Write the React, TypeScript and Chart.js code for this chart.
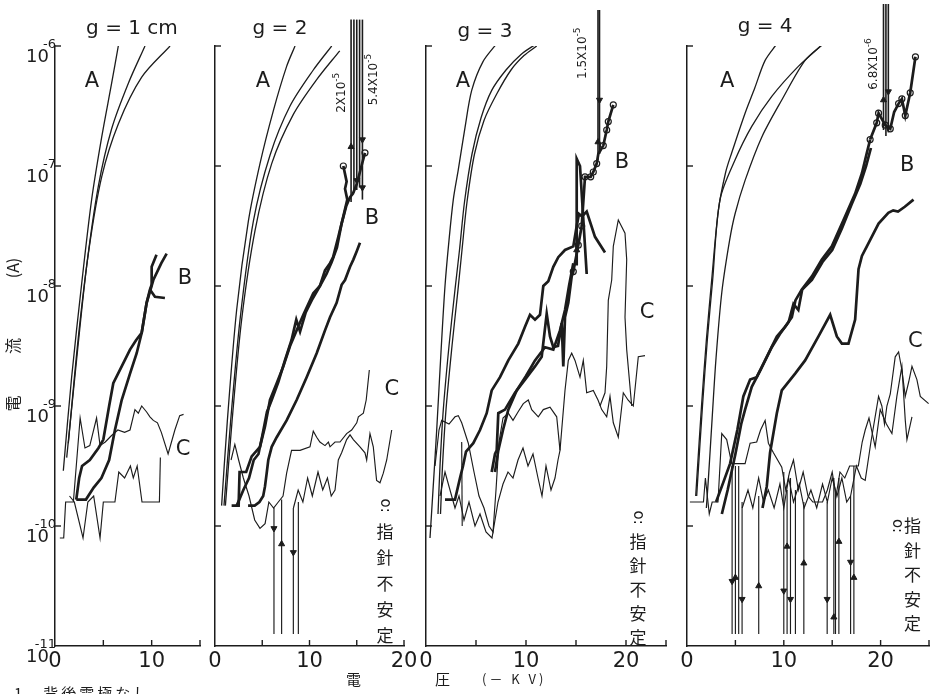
import React, { useEffect, useRef } from "react";
import { Chart, registerables } from "chart.js";

Chart.register(...registerables);

// Each point: [voltage (-kV), log10 of current (A)]
type Pt = [number, number];

// ---------------- g = 1 cm ----------------
const g1_A1: Pt[] = [[0.86,-9.54],[1.72,-8.76],[2.76,-7.98],[3.79,-7.28],[4.83,-6.76],[5.86,-6.31],[6.55,-6.0]];
const g1_A2: Pt[] = [[1.21,-9.43],[2.24,-8.61],[3.28,-7.83],[4.48,-7.17],[5.86,-6.69],[7.59,-6.31],[9.31,-6.0]];
const g1_A3: Pt[] = [[1.38,-9.31],[2.41,-8.43],[3.52,-7.69],[4.83,-7.09],[6.55,-6.65],[8.97,-6.26],[11.9,-6.0]];
const g1_B1: Pt[] = [[2.2,-9.78],[2.5,-9.6],[2.8,-9.5],[3.6,-9.45],[4.5,-9.35],[5.0,-9.28],[5.17,-9.2],[5.6,-9.0],[6.03,-8.81],[6.9,-8.67],[7.76,-8.53],[8.4,-8.45],[8.97,-8.39],[9.48,-8.14],[9.82,-8.03],[10.0,-7.99],[10.0,-7.84],[10.5,-7.74]];
const g1_B2: Pt[] = [[2.2,-9.78],[3.2,-9.78],[4.0,-9.68],[4.8,-9.6],[5.6,-9.45],[6.2,-9.2],[6.9,-8.95],[7.76,-8.73],[8.45,-8.56],[8.97,-8.39],[9.48,-8.14],[10.17,-7.95],[11.0,-7.81],[11.55,-7.73]];
const g1_B3: Pt[] = [[9.82,-8.03],[10.34,-8.09],[11.37,-8.1]];
const g1_C1: Pt[] = [[0.5,-10.1],[0.9,-10.1],[1.1,-9.8],[1.9,-9.8],[2.6,-9.1],[3.1,-9.35],[3.6,-9.33],[4.3,-9.1],[4.66,-9.33],[5.2,-9.3],[5.8,-9.25],[6.5,-9.2],[7.2,-9.22],[7.76,-9.2],[8.27,-9.03],[8.62,-9.06],[8.97,-9.0],[9.48,-9.05],[9.82,-9.09],[10.17,-9.12],[10.6,-9.14],[11.0,-9.22],[11.7,-9.4],[12.4,-9.2],[12.9,-9.08],[13.3,-9.07]];
const g1_C2: Pt[] = [[1.5,-9.75],[2.0,-9.8],[2.9,-10.1],[3.4,-9.8],[4.0,-9.75],[4.66,-10.1],[5.0,-9.8],[6.2,-9.8],[6.6,-9.55],[7.2,-9.6],[7.8,-9.5],[8.1,-9.6],[8.5,-9.5],[9.0,-9.8],[10.8,-9.8],[10.9,-9.43]];

// ---------------- g = 2 ----------------
const g2_A1: Pt[] = [[0.7,-9.83],[1.3,-9.13],[2.29,-8.2],[3.53,-7.46],[4.76,-6.98],[6.17,-6.54],[7.58,-6.17],[8.47,-6.0]];
const g2_A2: Pt[] = [[0.95,-9.83],[1.65,-9.13],[2.65,-8.28],[4.06,-7.46],[5.82,-6.91],[7.94,-6.5],[10.4,-6.2],[12.35,-6.0]];
const g2_A3: Pt[] = [[1.1,-9.83],[1.8,-9.13],[2.82,-8.28],[4.23,-7.54],[6.0,-6.98],[8.29,-6.57],[10.76,-6.28],[13.2,-6.04]];
const g2_B1: Pt[] = [[1.76,-9.83],[2.5,-9.83],[2.6,-9.55],[3.3,-9.55],[3.88,-9.42],[4.76,-9.34],[5.29,-9.17],[5.82,-8.95],[6.53,-8.81],[7.23,-8.67],[7.94,-8.5],[8.8,-8.34],[9.35,-8.24],[10.4,-8.06],[11.1,-8.0],[11.64,-7.87],[12.17,-7.81],[12.5,-7.76],[13.05,-7.59],[13.58,-7.42],[14.0,-7.28],[13.76,-7.19],[13.93,-7.13],[13.58,-7.0]];
const g2_B2: Pt[] = [[2.3,-9.83],[3.0,-9.7],[3.6,-9.6],[4.1,-9.45],[4.6,-9.4],[5.0,-9.25],[5.5,-9.05],[6.0,-8.95],[6.7,-8.8],[7.4,-8.62],[8.1,-8.45],[8.6,-8.28],[9.0,-8.38],[9.6,-8.22],[10.23,-8.12],[11.1,-8.0],[11.8,-7.9],[12.35,-7.8],[12.9,-7.68],[13.4,-7.48],[13.9,-7.33],[14.29,-7.26],[14.6,-7.23],[15.0,-7.15],[15.5,-7.0],[15.87,-6.89]];
const g2_B3: Pt[] = [[3.5,-9.83],[4.2,-9.83],[4.7,-9.8],[5.1,-9.75],[5.29,-9.67],[5.47,-9.56],[5.64,-9.45],[6.0,-9.34],[6.53,-9.26],[7.58,-9.12],[8.64,-8.95],[9.7,-8.76],[10.76,-8.56],[11.64,-8.37],[12.17,-8.26],[12.87,-8.14],[13.4,-7.99],[13.76,-7.95],[14.29,-7.84],[14.64,-7.78],[15.0,-7.71],[15.34,-7.64]];
const g2_C1: Pt[] = [[1.7,-9.45],[2.1,-9.32],[2.5,-9.45],[3.0,-9.6],[3.6,-9.75],[4.2,-9.95],[4.76,-10.02],[5.3,-9.98],[5.7,-9.8],[6.2,-9.85],[6.7,-9.8],[7.2,-9.75],[7.58,-9.56],[8.1,-9.37],[9.0,-9.37],[10.05,-9.34],[10.4,-9.21],[10.76,-9.26],[11.1,-9.3],[11.64,-9.33],[12.0,-9.3],[12.17,-9.34],[12.7,-9.3],[13.23,-9.3],[13.93,-9.23],[14.46,-9.2],[15.0,-9.14],[15.17,-9.09],[15.7,-9.06],[16.0,-8.95],[16.33,-8.7]];
const g2_C2: Pt[] = [[8.3,-9.85],[8.8,-9.7],[9.3,-9.8],[9.8,-9.6],[10.3,-9.75],[10.9,-9.55],[11.4,-9.7],[11.9,-9.6],[12.3,-9.75],[12.7,-9.7],[13.05,-9.45],[13.4,-9.39],[13.93,-9.28],[14.29,-9.24],[14.64,-9.28],[15.34,-9.34],[15.87,-9.39],[16.05,-9.45],[16.4,-9.23],[16.75,-9.34],[17.1,-9.62],[17.46,-9.64],[17.81,-9.56],[18.17,-9.45],[18.7,-9.2]];
const g2_dropX = [6.24, 7.05, 8.29, 8.82];
const g2_dropTop = [-9.85, -9.78, -9.85, -9.8];
const g2_bundleX = [14.4, 14.7, 15.0, 15.3, 15.6];
const g2_bundleLow = [-7.3, -7.22, -7.2, -7.18, -7.28];
const g2_circles: Pt[] = [[13.58,-7.0],[15.87,-6.89]];
const g2_up: Pt[] = [[7.05,-10.15],[14.4,-6.84]];
const g2_down: Pt[] = [[6.24,-10.02],[8.29,-10.22],[15.6,-6.78],[15.0,-7.12],[15.6,-7.18]];

// ---------------- g = 3 ----------------
const g3_A1: Pt[] = [[0.4,-10.1],[0.7,-9.7],[1.07,-9.2],[1.5,-8.55],[1.9,-8.0],[2.3,-7.62],[2.73,-7.28],[3.23,-7.03],[3.9,-6.68],[4.57,-6.37],[5.7,-6.13],[7.07,-5.98]];
const g3_A2: Pt[] = [[1.2,-9.9],[1.4,-9.5],[1.73,-9.03],[2.3,-8.5],[2.9,-8.03],[3.35,-7.7],[3.85,-7.3],[4.6,-6.9],[5.5,-6.6],[6.57,-6.37],[8.0,-6.2],[9.5,-6.07],[11.07,-5.98]];
const g3_A3: Pt[] = [[1.45,-9.9],[1.65,-9.5],[2.0,-9.03],[2.6,-8.5],[3.2,-8.03],[3.6,-7.7],[4.1,-7.3],[4.85,-6.9],[5.8,-6.62],[7.07,-6.4],[8.5,-6.2],[9.8,-6.08],[11.07,-6.0]];
const g3_B1: Pt[] = [[1.9,-9.78],[2.9,-9.78],[3.4,-9.6],[3.7,-9.5],[4.0,-9.38],[4.73,-9.31],[5.4,-9.2],[6.07,-9.06],[6.57,-8.87],[7.4,-8.76],[8.23,-8.62],[9.23,-8.48],[9.9,-8.34],[10.4,-8.24],[10.9,-8.28],[11.4,-8.24],[11.73,-8.0],[12.23,-7.96],[12.73,-7.84],[13.23,-7.76],[13.9,-7.7],[14.73,-7.67],[15.07,-7.5],[15.3,-7.4],[15.6,-7.42],[16.07,-7.38],[16.9,-7.59],[17.9,-7.72]];
const g3_B2: Pt[] = [[6.57,-9.55],[6.9,-9.4],[7.07,-9.37],[7.23,-9.06],[7.9,-9.03],[8.9,-8.89],[9.9,-8.78],[10.9,-8.67],[11.57,-8.59],[12.07,-8.23],[12.4,-8.42],[12.73,-8.51],[13.2,-8.5],[13.57,-8.31],[13.73,-8.67],[13.9,-8.26],[14.23,-8.14],[14.57,-7.92],[14.73,-7.88],[15.23,-7.66],[15.57,-7.5]];
const g3_B3: Pt[] = [[6.9,-9.55],[7.23,-9.37],[7.7,-9.2],[8.23,-9.03],[9.07,-8.87],[10.0,-8.75],[10.9,-8.62],[11.9,-8.51],[12.73,-8.53],[13.4,-8.37],[13.9,-8.2],[14.3,-8.0],[14.73,-7.81]];
const g3_B4: Pt[] = [[15.07,-7.83],[15.07,-6.94],[15.4,-7.0],[16.07,-7.9]];
const g3_B5: Pt[] = [[15.57,-7.5],[15.9,-7.09],[16.47,-7.09],[16.73,-7.05],[17.07,-6.98],[17.23,-6.9],[17.73,-6.83],[18.07,-6.7],[18.23,-6.63],[18.73,-6.49]];
const g3_C1: Pt[] = [[0.9,-9.5],[1.3,-9.2],[1.57,-9.12],[2.3,-9.15],[2.9,-9.09],[3.23,-9.08],[3.57,-9.14],[4.23,-9.31],[4.8,-9.55],[5.3,-9.75],[5.8,-9.85],[6.3,-10.0],[6.7,-10.05],[7.0,-9.7],[7.3,-9.3],[7.7,-9.1],[8.23,-9.06],[8.7,-9.12],[9.2,-9.05],[9.73,-8.98],[10.23,-8.95],[10.57,-9.03],[11.23,-9.09],[11.73,-9.03],[12.4,-9.01],[13.07,-9.09],[13.4,-9.37]];
const g3_C2: Pt[] = [[1.4,-9.75],[1.9,-9.55],[2.4,-9.7],[2.9,-9.85],[3.3,-9.75],[3.8,-9.95],[4.3,-9.8],[4.9,-10.0],[5.4,-9.9],[6.0,-10.05],[6.6,-10.1],[7.2,-9.8],[7.7,-9.65],[8.2,-9.55],[8.7,-9.6],[9.2,-9.45],[9.7,-9.35],[10.2,-9.5],[10.7,-9.4],[11.2,-9.6],[11.6,-9.75],[12.0,-9.5],[12.5,-9.7],[12.9,-9.6],[13.2,-9.45],[13.4,-9.37],[13.57,-9.2],[13.9,-8.87],[14.23,-8.62],[14.57,-8.56],[14.9,-8.62],[15.4,-8.76],[15.73,-8.62],[16.07,-8.89],[16.73,-8.87],[17.2,-8.95],[17.57,-9.03],[18.07,-9.09],[18.4,-8.92],[18.73,-9.14],[19.23,-9.26],[19.73,-8.89],[20.2,-8.95],[20.73,-9.0],[21.23,-8.59],[21.9,-8.58]];
const g3_C3: Pt[] = [[17.4,-9.0],[17.9,-8.89],[18.07,-8.67],[18.23,-8.12],[18.57,-7.95],[18.73,-7.67],[19.23,-7.45],[19.9,-7.56],[20.07,-7.78],[19.9,-8.26],[20.07,-8.53],[20.57,-9.0]];
const g3_C4: Pt[] = [[3.57,-9.3],[3.62,-10.0]];
const g3_bundleX = [17.2, 17.35];
const g3_bundleLow = [-6.95, -6.9];
const g3_circles: Pt[] = [[14.73,-7.88],[15.23,-7.66],[15.57,-7.5],[15.9,-7.09],[16.47,-7.09],[16.73,-7.05],[17.07,-6.98],[17.73,-6.83],[18.07,-6.7],[18.23,-6.63],[18.73,-6.49]];
const g3_up: Pt[] = [[17.2,-6.8],[15.07,-7.7]];
const g3_down: Pt[] = [[17.35,-6.45]];

// ---------------- g = 4 ----------------
const g4_A1: Pt[] = [[0.9,-9.75],[1.0,-9.62],[1.5,-9.0],[2.0,-8.45],[2.55,-7.95],[3.24,-7.37],[4.0,-7.05],[4.62,-6.89],[6.0,-6.56],[7.0,-6.35],[8.07,-6.12],[9.3,-5.98]];
const g4_A2: Pt[] = [[1.0,-9.75],[1.1,-9.62],[1.6,-9.0],[2.1,-8.45],[2.65,-7.95],[3.41,-7.28],[4.96,-6.95],[6.69,-6.67],[8.76,-6.42],[11.5,-6.17],[14.1,-5.98]];
const g4_A3: Pt[] = [[2.0,-9.85],[2.2,-9.62],[2.6,-9.1],[3.0,-8.6],[3.6,-8.05],[4.4,-7.62],[4.96,-7.4],[6.0,-7.12],[7.72,-6.76],[9.79,-6.45],[12.2,-6.12],[14.1,-5.98]];
const g4_B1: Pt[] = [[3.0,-9.8],[3.6,-9.67],[4.45,-9.48],[5.2,-9.2],[5.82,-8.92],[6.52,-8.78],[7.2,-8.76],[8.24,-8.59],[9.28,-8.42],[10.13,-8.34],[10.83,-8.26],[11.2,-8.12],[11.86,-8.03],[12.9,-7.92],[13.93,-7.78],[14.96,-7.67],[16.34,-7.42],[17.37,-7.23],[18.07,-7.06],[18.58,-6.89],[18.92,-6.78]];
const g4_B2: Pt[] = [[3.6,-9.9],[4.2,-9.7],[5.0,-9.4],[5.6,-9.15],[6.0,-9.03],[6.69,-8.84],[7.6,-8.7],[8.76,-8.51],[9.6,-8.4],[10.5,-8.3],[11.0,-8.15],[11.5,-8.2],[11.9,-8.03],[12.9,-7.95],[14.0,-7.8],[15.0,-7.7],[16.0,-7.52],[17.0,-7.32],[17.9,-7.15],[18.5,-7.0],[19.0,-6.85]];
const g4_B3: Pt[] = [[7.8,-9.85],[8.24,-9.67],[8.58,-9.39],[9.28,-9.06],[9.79,-8.87],[11.17,-8.73],[12.2,-8.62],[13.58,-8.42],[14.79,-8.24],[15.48,-8.42],[16.0,-8.48],[16.68,-8.48],[17.37,-8.28],[17.72,-7.86],[18.07,-7.75],[18.58,-7.67],[19.79,-7.48],[20.8,-7.39],[21.3,-7.37],[21.8,-7.38],[22.5,-7.34],[23.4,-7.28]];
const g4_B4: Pt[] = [[18.92,-6.78],[19.6,-6.64],[19.79,-6.56],[20.48,-6.66],[21.0,-6.69],[21.4,-6.55],[21.86,-6.48],[22.2,-6.44],[22.55,-6.58],[23.06,-6.39],[23.6,-6.09]];
const g4_C1: Pt[] = [[0.3,-9.8],[1.7,-9.8],[1.9,-9.6],[2.3,-9.9],[2.6,-9.8],[3.2,-9.8],[3.59,-9.23],[4.1,-9.28],[4.62,-9.48],[6.0,-9.48],[6.52,-9.31],[7.2,-9.3],[7.6,-9.2],[8.07,-9.12],[8.41,-9.31],[8.93,-9.39],[9.79,-9.51],[10.2,-9.7],[10.6,-9.55],[11.0,-9.45],[11.5,-9.7],[12.0,-9.55],[12.5,-9.75],[13.0,-9.8],[14.0,-9.8],[14.5,-9.7],[15.0,-9.55],[15.4,-9.75],[15.8,-9.55],[16.3,-9.6],[16.8,-9.5],[17.3,-9.5],[17.7,-9.5],[18.1,-9.3],[18.41,-9.2],[18.8,-9.1],[19.44,-9.34],[19.96,-9.03],[20.6,-9.15],[21.17,-9.23],[21.68,-8.92],[22.2,-8.67],[22.55,-9.12],[22.72,-9.28],[23.24,-9.09]];
const g4_C2: Pt[] = [[16.9,-9.75],[17.5,-9.5],[18.0,-9.6],[18.41,-9.62],[19.0,-9.3],[19.79,-8.92],[20.13,-9.0],[20.4,-9.15],[20.65,-9.0],[21.0,-8.9],[21.51,-8.59],[21.86,-8.55],[22.2,-8.7],[22.55,-8.92],[22.9,-8.8],[23.24,-8.67],[23.75,-8.78],[24.1,-8.92],[24.96,-8.98]];
const g4_C3: Pt[] = [[5.7,-9.85],[6.3,-9.7],[6.8,-9.85],[7.4,-9.6],[7.9,-9.8],[8.4,-9.7],[9.0,-9.85],[9.6,-9.65],[10.0,-9.85],[10.5,-9.6],[11.0,-9.8],[11.6,-9.65],[12.1,-9.85],[12.8,-9.7],[13.4,-9.85],[14.0,-9.65],[14.5,-9.8],[15.0,-9.6],[15.5,-9.75],[16.0,-9.6],[16.5,-9.8],[16.9,-9.75]];
const g4_dropX = [4.66, 5.0, 5.34, 5.69, 7.41, 10.0, 10.34, 10.69, 11.2, 12.07, 14.48, 15.17, 15.34, 15.69, 16.9, 17.24];
const g4_dropTop = [-9.5, -9.5, -9.5, -9.8, -9.75, -9.55, -9.7, -9.6, -9.7, -9.8, -9.8, -9.6, -9.7, -9.6, -9.75, -9.5];
const g4_bundleX = [20.3, 20.55, 20.8];
const g4_bundleLow = [-6.7, -6.75, -6.72];
const g4_circles: Pt[] = [[18.92,-6.78],[19.6,-6.64],[19.79,-6.56],[20.48,-6.66],[21.0,-6.69],[21.86,-6.48],[22.2,-6.44],[22.55,-6.58],[23.06,-6.39],[23.6,-6.09]];
const g4_up: Pt[] = [[5.0,-10.43],[7.41,-10.5],[10.34,-10.17],[12.07,-10.31],[15.17,-10.76],[15.69,-10.13],[17.24,-10.43],[20.3,-6.45]];
const g4_down: Pt[] = [[4.66,-10.46],[5.69,-10.61],[10.0,-10.54],[10.69,-10.61],[14.48,-10.61],[16.9,-10.3],[20.8,-6.38]];

const DECADES = [-6, -7, -8, -9, -10, -11];
const DROP_FLOOR = -10.9;
const BUNDLE_TOPS = [-5.78, -5.7, -5.65];

const INK = "#1c1c1c";
const LATIN = '"DejaVu Sans", "Liberation Sans", sans-serif';
const CJK = '"Noto Sans CJK JP", "Noto Sans CJK SC", sans-serif';
const W = 936, H = 694, AXIS_TOP = 46, AXIS_BOTTOM = 646;

interface Label { text: string; x: number; e: number }
interface Note { base: string; exp: string; x: number; e: number }
interface Panel {
  left: number; right: number; xMax: number; xTicks: number[]; xLabels: number[];
  A: Pt[][]; B: Pt[][]; C: Pt[][];
  dropX?: number[]; dropTop?: number[];
  bundleX?: number[]; bundleLow?: number[]; bundleTop?: number;
  circles?: Pt[]; up?: Pt[]; down?: Pt[];
  title: Label; letters: Label[]; notes: Note[];
  vertical?: { x: number; e: number; gap: number; inline: boolean };
  yLabels: boolean;
}

// y-axis title pieces for panel 1 (text, level in log10 A)
const Y_TITLE: [string, number][] = [["(A)", -7.85], ["流", -8.5], ["電", -8.98]];

const PANELS: Panel[] = [
  {
    left: 55, right: 200, xMax: 15, xTicks: [5, 10, 15], xLabels: [0, 10],
    A: [g1_A1, g1_A2, g1_A3], B: [g1_B1, g1_B2, g1_B3], C: [g1_C1, g1_C2],
    title: { text: "g = 1 cm", x: 7.96, e: -5.86 },
    letters: [{ text: "A", x: 3.83, e: -6.3 }, { text: "B", x: 13.44, e: -7.94 }, { text: "C", x: 13.24, e: -9.36 }],
    notes: [], yLabels: true,
  },
  {
    left: 215, right: 404, xMax: 20, xTicks: [5, 10, 15, 20], xLabels: [0, 10, 20],
    A: [g2_A1, g2_A2, g2_A3], B: [g2_B1, g2_B2, g2_B3], C: [g2_C1, g2_C2],
    dropX: g2_dropX, dropTop: g2_dropTop,
    bundleX: g2_bundleX, bundleLow: g2_bundleLow, bundleTop: BUNDLE_TOPS[0],
    circles: g2_circles, up: g2_up, down: g2_down,
    title: { text: "g = 2", x: 6.88, e: -5.86 },
    letters: [{ text: "A", x: 5.08, e: -6.3 }, { text: "B", x: 16.6, e: -7.44 }, { text: "C", x: 18.7, e: -8.86 }],
    notes: [{ base: "2X10", exp: "-5", x: 13.4, e: -6.39 }, { base: "5.4X10", exp: "-5", x: 16.8, e: -6.28 }],
    vertical: { x: 18.0, e: -9.83, gap: 26, inline: false }, yLabels: false,
  },
  {
    left: 426, right: 666, xMax: 24, xTicks: [5, 10, 15, 20, 24], xLabels: [0, 10, 20],
    A: [g3_A1, g3_A2, g3_A3], B: [g3_B1, g3_B2, g3_B3, g3_B4, g3_B5], C: [g3_C1, g3_C2, g3_C3, g3_C4],
    bundleX: g3_bundleX, bundleLow: g3_bundleLow, bundleTop: BUNDLE_TOPS[1],
    circles: g3_circles, up: g3_up, down: g3_down,
    title: { text: "g = 3", x: 5.9, e: -5.88 },
    letters: [{ text: "A", x: 3.7, e: -6.3 }, { text: "B", x: 19.6, e: -6.97 }, { text: "C", x: 22.1, e: -8.22 }],
    notes: [{ base: "1.5X10", exp: "-5", x: 15.7, e: -6.06 }],
    vertical: { x: 21.2, e: -9.93, gap: 24, inline: false }, yLabels: false,
  },
  {
    left: 687, right: 929, xMax: 25, xTicks: [5, 10, 15, 20, 25], xLabels: [0, 10, 20],
    A: [g4_A1, g4_A2, g4_A3], B: [g4_B1, g4_B2, g4_B3, g4_B4], C: [g4_C1, g4_C2, g4_C3],
    dropX: g4_dropX, dropTop: g4_dropTop,
    bundleX: g4_bundleX, bundleLow: g4_bundleLow, bundleTop: BUNDLE_TOPS[2],
    circles: g4_circles, up: g4_up, down: g4_down,
    title: { text: "g = 4", x: 8.07, e: -5.84 },
    letters: [{ text: "A", x: 4.14, e: -6.3 }, { text: "B", x: 22.75, e: -7.0 }, { text: "C", x: 23.6, e: -8.46 }],
    notes: [{ base: "6.8X10", exp: "-6", x: 19.3, e: -6.15 }],
    vertical: { x: 23.3, e: -10.0, gap: 24.5, inline: true }, yLabels: false,
  },
];

const toXY = (pts: Pt[]) => pts.map(([x, e]) => ({ x, y: Math.pow(10, e) }));

const lineDs = (pts: Pt[], width: number, extra: any = {}) => ({
  data: toXY(pts), showLine: true, borderColor: INK, borderWidth: width,
  pointRadius: 0, pointHoverRadius: 0, tension: 0, fill: false, ...extra,
});

function buildDatasets(p: Panel) {
  const ds: any[] = [];
  p.A.forEach((c) => ds.push(lineDs(c, 1.3, { tension: 0.3 })));
  p.C.forEach((c) => ds.push(lineDs(c, 1.15)));
  p.B.forEach((c) => ds.push(lineDs(c, 2.7)));
  (p.dropX || []).forEach((x, i) => ds.push(lineDs([[x, p.dropTop![i]], [x, DROP_FLOOR]], 1.15)));
  (p.bundleX || []).forEach((x, i) => ds.push(lineDs([[x, p.bundleLow![i]], [x, p.bundleTop!]], 1.6, { clip: false })));
  if (p.up) ds.push({ data: toXY(p.up), showLine: false, pointStyle: "triangle", pointRadius: 3.5, pointRotation: 0, backgroundColor: INK, borderColor: INK, borderWidth: 1 });
  if (p.down) ds.push({ data: toXY(p.down), showLine: false, pointStyle: "triangle", pointRadius: 3.5, pointRotation: 180, backgroundColor: INK, borderColor: INK, borderWidth: 1 });
  if (p.circles) ds.push({ data: toXY(p.circles), showLine: false, pointStyle: "circle", pointRadius: 3, backgroundColor: "#ffffff", borderColor: INK, borderWidth: 1.2 });
  return ds;
}

function decorPlugin(p: Panel) {
  return {
    id: "decor",
    afterDraw(chart: any) {
      const ctx: CanvasRenderingContext2D = chart.ctx;
      const xs = chart.scales.x, ys = chart.scales.y;
      const X = (v: number) => xs.getPixelForValue(v);
      const Y = (e: number) => ys.getPixelForValue(Math.pow(10, e));
      const { left, bottom } = chart.chartArea;
      ctx.save();
      ctx.strokeStyle = INK; ctx.fillStyle = INK; ctx.lineWidth = 1.4;
      p.xTicks.forEach((t) => { ctx.beginPath(); ctx.moveTo(X(t), bottom); ctx.lineTo(X(t), bottom - 6); ctx.stroke(); });
      DECADES.slice(0, 5).forEach((d) => { ctx.beginPath(); ctx.moveTo(left, Y(d)); ctx.lineTo(left + 6, Y(d)); ctx.stroke(); });
      if (p.yLabels) {
        DECADES.forEach((d) => {
          const y = Y(d);
          ctx.textAlign = "right"; ctx.textBaseline = "middle";
          ctx.font = `18px ${LATIN}`; ctx.fillText("10", left - 6, y + 11);
          ctx.font = `13px ${LATIN}`; ctx.fillText(String(d), left + 1, y - 1);
        });
        ctx.font = `16px ${CJK}`; ctx.textAlign = "center"; ctx.textBaseline = "middle";
        Y_TITLE.forEach(([t, lv]) => { ctx.save(); ctx.translate(13, Y(lv)); ctx.rotate(-Math.PI / 2); ctx.fillText(t, 0, 0); ctx.restore(); });
      }
      ctx.textAlign = "center"; ctx.textBaseline = "middle";
      ctx.font = `20px ${LATIN}`;
      ctx.fillText(p.title.text, X(p.title.x), Y(p.title.e));
      ctx.font = `21px ${LATIN}`;
      p.letters.forEach((l) => ctx.fillText(l.text, X(l.x), Y(l.e)));
      p.notes.forEach((n) => {
        ctx.save(); ctx.translate(X(n.x), Y(n.e)); ctx.rotate(-Math.PI / 2);
        ctx.font = `12px ${LATIN}`; const wb = ctx.measureText(n.base).width;
        ctx.font = `9px ${LATIN}`; const we = ctx.measureText(n.exp).width;
        const x0 = -(wb + we) / 2;
        ctx.textAlign = "left"; ctx.textBaseline = "middle";
        ctx.font = `12px ${LATIN}`; ctx.fillText(n.base, x0, 0);
        ctx.font = `9px ${LATIN}`; ctx.fillText(n.exp, x0 + wb, -5);
        ctx.restore();
      });
      if (p.vertical) {
        const v = p.vertical; const cx = X(v.x); const cy = Y(v.e);
        ctx.textAlign = "center"; ctx.textBaseline = "middle";
        const drawO = (ox: number, oy: number) => { ctx.save(); ctx.translate(ox, oy); ctx.rotate(Math.PI / 2); ctx.font = `15px ${LATIN}`; ctx.fillText("o:", 0, 0); ctx.restore(); };
        const chars = ["指", "針", "不", "安", "定"];
        if (v.inline) {
          drawO(cx - 16, cy);
          chars.forEach((c, i) => { ctx.font = `17px ${CJK}`; ctx.fillText(c, cx, cy + i * v.gap); });
        } else {
          drawO(cx, cy);
          chars.forEach((c, i) => { ctx.font = `17px ${CJK}`; ctx.fillText(c, cx, cy + (i + 1) * v.gap); });
        }
      }
      ctx.restore();
    },
  };
}

function makeChart(canvas: HTMLCanvasElement, p: Panel) {
  const xAxisH = 30;
  return new Chart(canvas, {
    type: "scatter",
    data: { datasets: buildDatasets(p) },
    options: {
      animation: false, responsive: false, devicePixelRatio: 1,
      events: [],
      layout: { padding: { left: p.left, right: W - p.right, top: AXIS_TOP, bottom: H - AXIS_BOTTOM - xAxisH } },
      plugins: { legend: { display: false }, tooltip: { enabled: false } },
      scales: {
        x: {
          type: "linear", min: 0, max: p.xMax, position: "bottom",
          grid: { display: false, drawTicks: false, tickLength: 0 },
          border: { display: true, color: INK, width: 1.5 },
          ticks: {
            stepSize: 5, autoSkip: false, maxRotation: 0, padding: 3, color: INK,
            font: { family: LATIN, size: 21 },
            callback: (v: any) => (p.xLabels.includes(Number(v)) ? String(v) : ""),
          },
          afterFit: (s: any) => { s.height = xAxisH; },
        },
        y: {
          type: "logarithmic", min: 1e-11, max: 1e-6, position: "left",
          grid: { display: false, drawTicks: false, tickLength: 0 },
          border: { display: true, color: INK, width: 1.5 },
          ticks: { display: false },
          afterFit: (s: any) => { s.width = 0; },
        },
      },
    } as any,
    plugins: [decorPlugin(p)],
  });
}

export default function App() {
  const refs = [useRef<HTMLCanvasElement>(null), useRef<HTMLCanvasElement>(null), useRef<HTMLCanvasElement>(null), useRef<HTMLCanvasElement>(null)];
  useEffect(() => {
    const charts = PANELS.map((p, i) => makeChart(refs[i].current!, p));
    return () => charts.forEach((c) => c.destroy());
  }, []);
  const abs = (left: number, top: number, size: number, font: string, extra: any = {}) => ({
    position: "absolute" as const, left, top, fontSize: size, fontFamily: font, color: INK, lineHeight: 1, whiteSpace: "nowrap" as const, ...extra,
  });
  return (
    <div style={{ position: "fixed", left: 0, top: 0, width: W, height: H, background: "#ffffff", overflow: "hidden" }}>
      {refs.map((r, i) => (
        <canvas key={i} ref={r} width={W} height={H} style={{ position: "absolute", left: 0, top: 0, width: W, height: H }} />
      ))}
      <div style={abs(346, 671, 15, CJK)}>電</div>
      <div style={abs(435, 671, 15, CJK)}>圧</div>
      <div style={abs(482, 672, 13, CJK, { letterSpacing: 3 })}>(－ K V)</div>
      <div style={abs(14, 685, 15, CJK, { letterSpacing: 3 })}>1　背後電極なし</div>
    </div>
  );
}
